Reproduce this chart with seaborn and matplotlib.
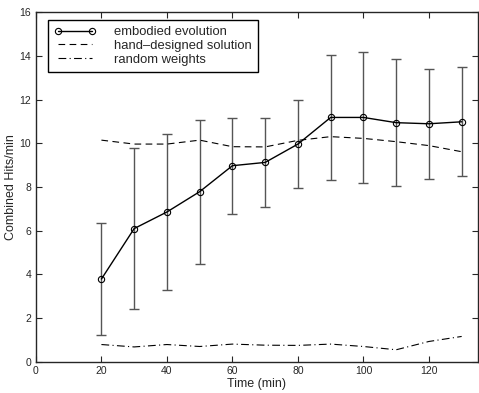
import numpy as np
import pandas as pd
import matplotlib
matplotlib.use("Agg")
import matplotlib.pyplot as plt
import seaborn as sns

time_min = [20, 30, 40, 50, 60, 70, 80, 90, 100, 110, 120, 130]
embodied = [3.78, 6.09, 6.85, 7.78, 8.97, 9.12, 9.96, 11.18, 11.18, 10.94, 10.89, 10.98]
embodied_err = [2.55, 3.67, 3.58, 3.30, 2.19, 2.03, 2.02, 2.88, 3.0, 2.92, 2.52, 2.50]
hand_designed = [10.14, 9.96, 9.96, 10.14, 9.84, 9.83, 10.13, 10.30, 10.22, 10.07, 9.89, 9.61]
random_weights = [0.78, 0.67, 0.78, 0.69, 0.80, 0.75, 0.74, 0.80, 0.69, 0.54, 0.92, 1.15]

sns.set_style("ticks")
plt.rcParams['font.family'] = ['Liberation Sans', 'DejaVu Sans']

df = pd.DataFrame({"t": time_min, "emb": embodied, "err": embodied_err,
                   "hand": hand_designed, "rnd": random_weights})

fig = plt.figure(figsize=(4.79, 3.93), dpi=100)
ax = fig.add_axes([0.075, 0.08, 0.923, 0.889])

ax.errorbar(df["t"], df["emb"], yerr=df["err"], fmt="none", ecolor="#555555",
            elinewidth=1.0, capsize=3.5, capthick=1.0, zorder=2)
sns.lineplot(data=df, x="t", y="emb", ax=ax, color="black", lw=1.0,
             marker="o", markersize=4.5, markerfacecolor="none",
             markeredgecolor="black", markeredgewidth=0.8,
             label="embodied evolution", zorder=3)
sns.lineplot(data=df, x="t", y="hand", ax=ax, color="black", lw=0.8,
             dashes=False, label="hand\u2013designed solution")
ax.lines[-1].set_linestyle((0, (6, 4)))
sns.lineplot(data=df, x="t", y="rnd", ax=ax, color="black", lw=0.8,
             label="random weights")
ax.lines[-1].set_linestyle((0, (7, 3, 1, 3)))

ax.set_xlim(0, 135)
ax.set_ylim(0, 16)
ax.set_xticks(np.arange(0, 121, 20))
ax.set_yticks(np.arange(0, 17, 2))
ax.tick_params(direction="in", top=True, right=True, labelsize=7.5, length=4, width=0.8)
for s in ax.spines.values():
    s.set_linewidth(1.0)
ax.set_xlabel("Time (min)", fontsize=9, labelpad=1)
ax.set_ylabel("Combined Hits/min", fontsize=9, labelpad=2)

leg = ax.legend(loc="upper left", numpoints=2, fontsize=9.4, frameon=True,
                fancybox=False, edgecolor="black", framealpha=1,
                handlelength=3.2, handletextpad=1.45, borderpad=0.45,
                labelspacing=0.12, borderaxespad=0,
                bbox_to_anchor=(0.027, 0.977))
leg.get_frame().set_linewidth(1.0)

fig.savefig("out.png", dpi=100)
